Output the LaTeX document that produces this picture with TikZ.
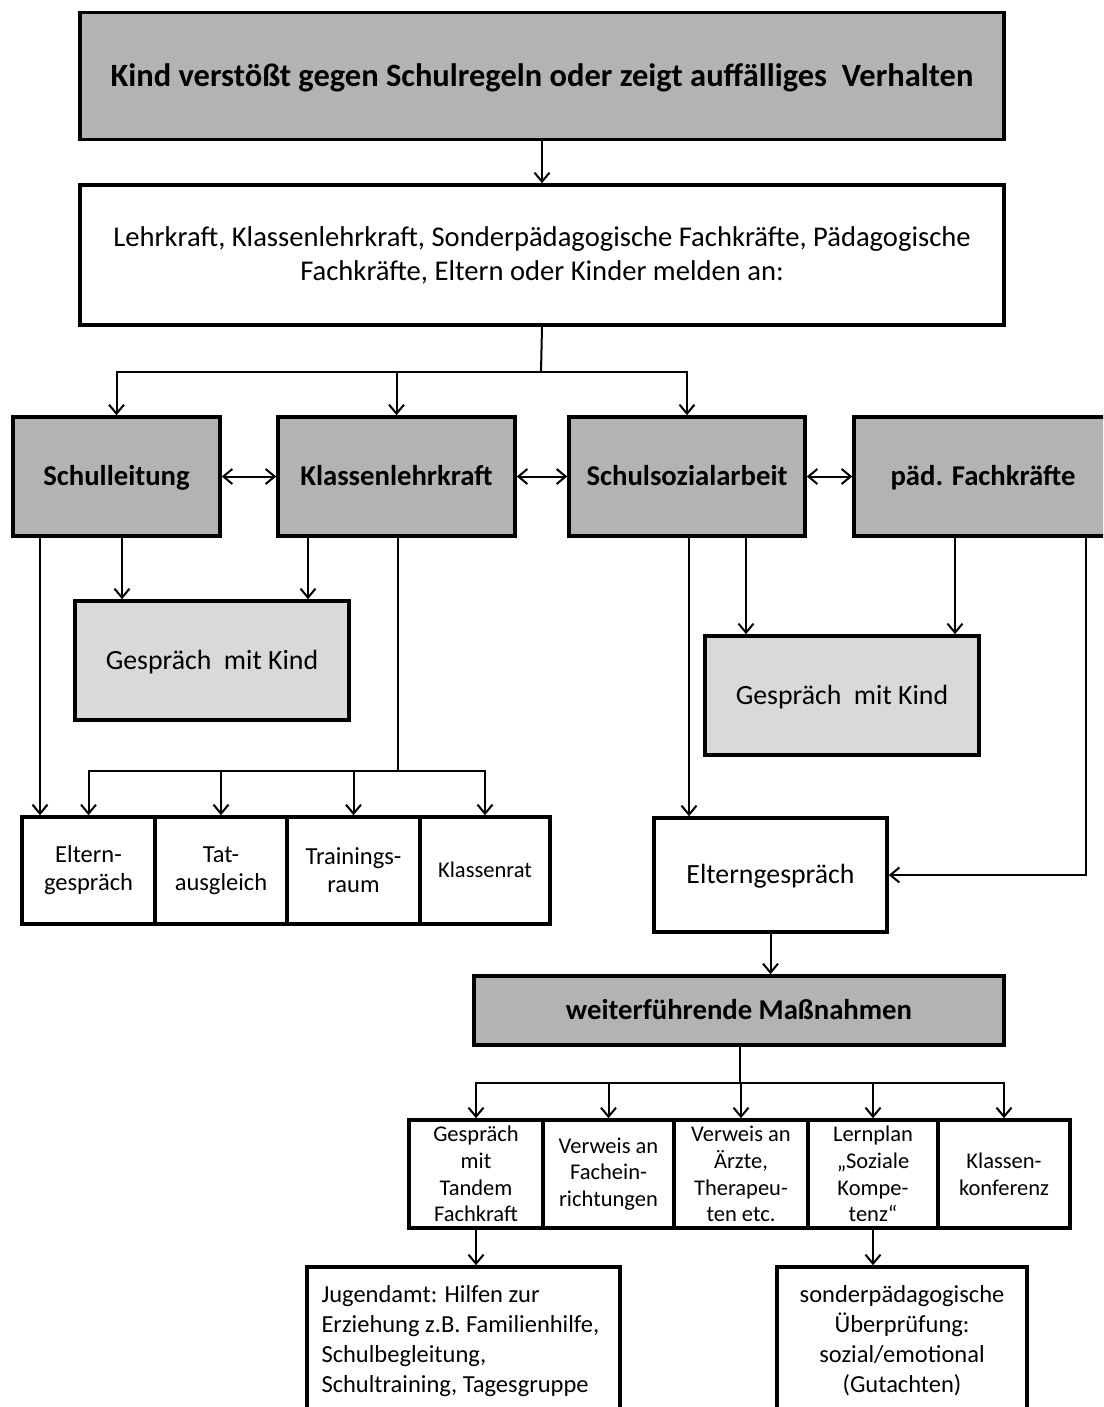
\documentclass[tikz,border=0pt]{standalone}
\usepackage{fontspec}
\setmainfont{Carlito}
\usetikzlibrary{arrows.meta,calc}
\definecolor{dk}{RGB}{179,179,179}
\definecolor{lt}{RGB}{217,217,217}
\tikzset{
  box/.style={draw, line width=3.6pt, inner sep=0pt, align=center},
  dark/.style={box, fill=dk},
  light/.style={box, fill=lt},
  wbox/.style={box, fill=white},
  oneline/.style={text height=#1, text depth=0pt},
  arr/.style={line width=2pt, -{Straight Barb[length=9pt,width=15pt,line width=2pt]}},
  dbl/.style={line width=2pt, {Straight Barb[length=9pt,width=15pt,line width=2pt]}-{Straight Barb[length=9pt,width=15pt,line width=2pt]}},
  ln/.style={line width=2pt},
  fA/.style={font=\fontsize{32.5}{38}\selectfont\bfseries, oneline=20.8pt},
  fB/.style={font=\fontsize{28.6}{34}\selectfont},
  fC/.style={font=\fontsize{28.7}{34}\selectfont\bfseries, oneline=18.4pt},
  fD/.style={font=\fontsize{27.8}{33}\selectfont, oneline=17.8pt},
  fE/.style={font=\fontsize{24.5}{28}\selectfont},
  fF/.style={font=\fontsize{22.5}{26.8}\selectfont},
  fK/.style={font=\fontsize{22.5}{26.8}\selectfont, oneline=14.4pt},
  fG/.style={font=\fontsize{24.5}{30}\selectfont},
}
\begin{document}
\begin{tikzpicture}[x=1pt,y=-1pt]
\useasboundingbox (0,0) rectangle (1103,1407);
\clip (0,0) rectangle (1103,1407);
\fill[white] (0,0) rectangle (1103,1407);

% nodes
\node[dark, fA, minimum width=924pt, minimum height=127pt] (title) at (542,76) {Kind verstößt gegen Schulregeln oder zeigt auffälliges~ Verhalten};
\node[wbox, fB, minimum width=924pt, minimum height=140pt] (melden) at (542,255) {Lehrkraft, Klassenlehrkraft, Sonderpädagogische Fachkräfte, Pädagogische\\Fachkräfte, Eltern oder Kinder melden an:};

\node[dark, fC, minimum width=207pt, minimum height=119pt] (sl) at (116.5,476.5) {Schulleitung};
\node[dark, fC, minimum width=237pt, minimum height=119pt] (kl) at (396.5,476.5) {Klassenlehrkraft};
\node[dark, fC, minimum width=236pt, minimum height=119pt] (ssa) at (687,476.5) {Schulsozialarbeit};
\node[dark, fC, minimum width=258pt, minimum height=119pt] (pf) at (983,476.5) {päd. Fachkräfte};

\node[light, fD, minimum width=274pt, minimum height=119pt] (gk1) at (212,660.5) {Gespräch~ mit Kind};
\node[light, fD, minimum width=274pt, minimum height=119pt] (gk2) at (842,695.5) {Gespräch~ mit Kind};

\node[wbox, fE, minimum width=133pt, minimum height=107pt] (e1) at (88.5,870.5) {Eltern-\\gespräch};
\node[wbox, fE, minimum width=132pt, minimum height=107pt] (e2) at (221,870.5) {Tat-\\ausgleich};
\node[wbox, fE, minimum width=133pt, minimum height=107pt] (e3) at (353.5,870.5) {Trainings-\\raum};
\node[wbox, fK, minimum width=130pt, minimum height=107pt] (e4) at (485,870.5) {Klassenrat};

\node[wbox, fD, minimum width=233pt, minimum height=114pt] (eg) at (770.5,875) {Elterngespräch};
\node[dark, fC, minimum width=530pt, minimum height=69pt] (wm) at (739,1010.5) {weiterführende Maßnahmen};

\node[wbox, fF, minimum width=134pt, minimum height=108pt] (b1) at (476,1174) {Gespräch\\mit\\Tandem\\Fachkraft};
\node[wbox, fF, minimum width=131pt, minimum height=108pt] (b2) at (608.5,1174) {Verweis an\\Fachein-\\richtungen};
\node[wbox, fF, minimum width=134pt, minimum height=108pt] (b3) at (741,1174) {Verweis an\\Ärzte,\\Therapeu-\\ten etc.};
\node[wbox, fF, minimum width=130pt, minimum height=108pt] (b4) at (873,1174) {Lernplan\\„Soziale\\Kompe-\\tenz“};
\node[wbox, fF, minimum width=132pt, minimum height=108pt] (b5) at (1004,1174) {Klassen-\\konferenz};

\node[wbox, fG, align=flush left, text width=284pt, minimum width=313pt, minimum height=148pt] (ju) at (463.5,1341) {Jugendamt: Hilfen zur\\Erziehung z.B. Familienhilfe,\\Schulbegleitung,\\Schultraining, Tagesgruppe};
\node[wbox, fG, minimum width=250pt, minimum height=148pt] (sp) at (902,1341) {sonderpädagogische\\Überprüfung:\\sozial/emotional\\(Gutachten)};

% helper coordinates
\coordinate (hubA) at (541,372);
\coordinate (hubB) at (398,771);
\coordinate (hubC) at (740,1083);
\coordinate (xa) at (40,0);
\coordinate (xb) at (122,0);
\coordinate (xc) at (308,0);
\coordinate (xd) at (689,0);
\coordinate (xe) at (746,0);
\coordinate (xf) at (955,0);
\coordinate (xg) at (1086,0);

% connectors
\draw[arr] (title.south) -- (melden.north);
\draw[ln] (melden.south) -- (hubA);
\draw[arr] (hubA) -| (sl.north);
\draw[arr] (hubA) -| (kl.north);
\draw[arr] (hubA) -| (ssa.north);

\draw[dbl] (sl.east) -- (kl.west);
\draw[dbl] (kl.east) -- (ssa.west);
\draw[dbl] (ssa.east) -- (pf.west);

\draw[arr] (sl.south -| xa) -- (e1.north -| xa);
\draw[arr] (sl.south -| xb) -- (gk1.north -| xb);
\draw[arr] (kl.south -| xc) -- (gk1.north -| xc);
\draw[ln] (kl.south -| hubB) -- (hubB);
\draw[arr] (hubB) -| (e1.north);
\draw[arr] (hubB) -| (e2.north);
\draw[arr] (hubB) -| (e3.north);
\draw[arr] (hubB) -| (e4.north);

\draw[arr] (ssa.south -| xd) -- (eg.north -| xd);
\draw[arr] (ssa.south -| xe) -- (gk2.north -| xe);
\draw[arr] (pf.south -| xf) -- (gk2.north -| xf);
\draw[arr] (pf.south -| xg) |- (eg.east);

\draw[arr] (eg.south) -- (eg.south |- wm.north);
\draw[ln] (wm.south -| hubC) -- (hubC);
\draw[arr] (hubC) -| (b1.north);
\draw[arr] (hubC) -| (b2.north);
\draw[arr] (hubC) -| (b3.north);
\draw[arr] (hubC) -| (b4.north);
\draw[arr] (hubC) -| (b5.north);

\draw[arr] (b1.south) -- (b1.south |- ju.north);
\draw[arr] (b4.south) -- (b4.south |- sp.north);
\end{tikzpicture}
\end{document}
